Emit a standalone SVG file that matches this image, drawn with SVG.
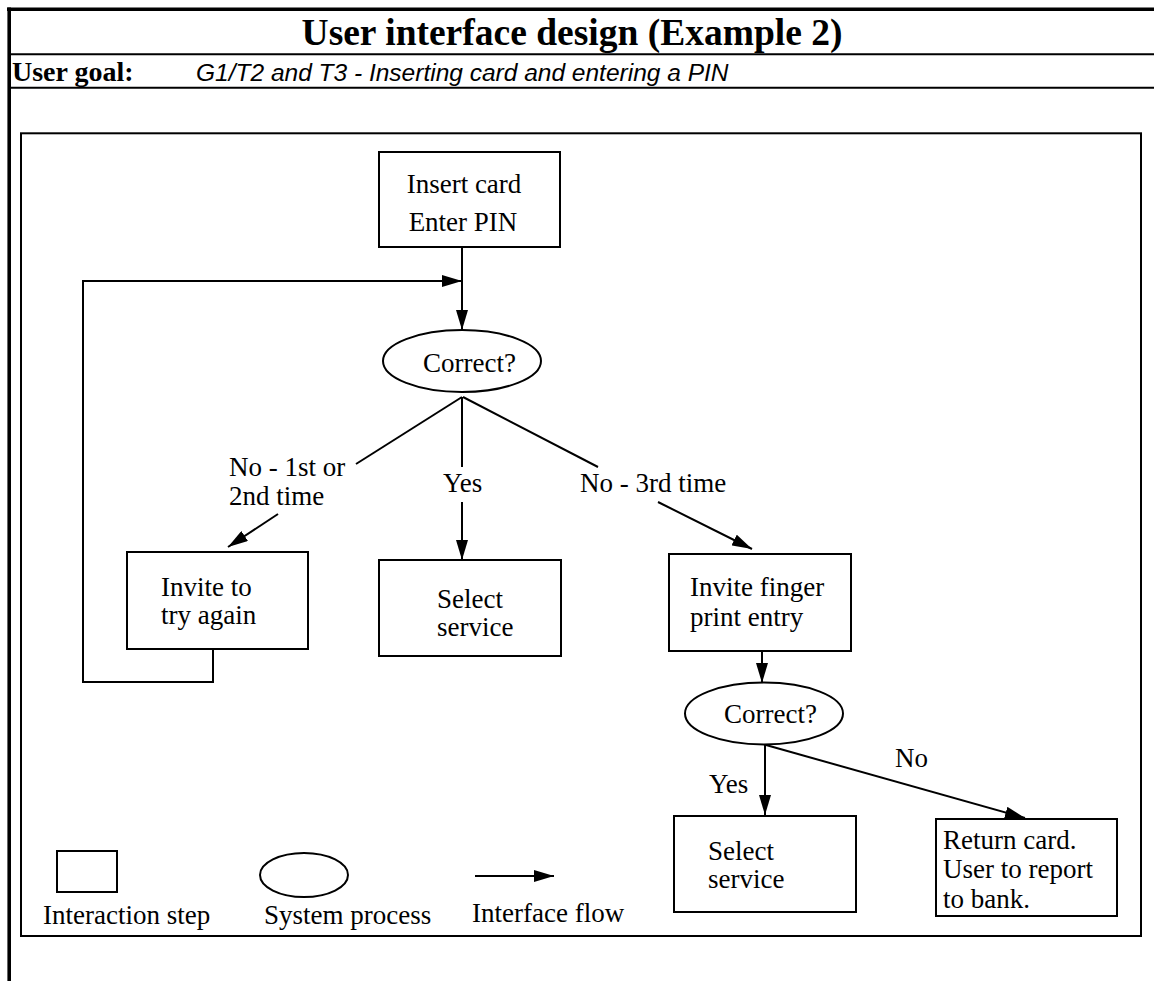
<svg xmlns="http://www.w3.org/2000/svg" width="1154" height="981" viewBox="0 0 1154 981">
  <style>
    .frame { fill: none; stroke: #000; }
    .box { fill: #fff; stroke: #000; stroke-width: 2; }
    .proc { fill: #fff; stroke: #000; stroke-width: 2; }
    .link { fill: none; stroke: #000; stroke-width: 2; }
    .flow { fill: none; stroke: #000; stroke-width: 2; marker-end: url(#head); }
    .lbl { font-family: "Liberation Serif", "Times New Roman", serif; font-size: 27px; fill: #000; }
    .title { font-family: "Liberation Serif", "Times New Roman", serif; font-size: 37.5px; font-weight: bold; fill: #000; }
    .goalkey { font-family: "Liberation Serif", "Times New Roman", serif; font-size: 28px; font-weight: bold; fill: #000; }
    .goal { font-family: "Liberation Sans", Arial, sans-serif; font-size: 24.5px; font-style: italic; fill: #000; }
  </style>
  <defs>
    <marker id="head" viewBox="0 0 20 12" refX="20" refY="6" markerWidth="20" markerHeight="12" markerUnits="userSpaceOnUse" orient="auto">
      <path d="M0,0 L20,6 L0,12 Z" fill="#000"/>
    </marker>
  </defs>

  <rect width="1154" height="981" fill="#fff"/>

  <!-- page frame and header rows -->
  <g id="page">
    <line class="frame" x1="7" y1="9.2" x2="1154" y2="9.2" stroke-width="3.6"/>
    <line class="frame" x1="9.2" y1="7.4" x2="9.2" y2="981" stroke-width="3.6"/>
    <line class="frame" x1="9" y1="54.3" x2="1154" y2="54.3" stroke-width="2"/>
    <line class="frame" x1="9" y1="87.7" x2="1154" y2="87.7" stroke-width="2"/>
    <text class="title" x="572" y="45" text-anchor="middle">User interface design (Example 2)</text>
    <text class="goalkey" x="12" y="81">User goal:</text>
    <text class="goal" x="196" y="81">G1/T2 and T3 - Inserting card and entering a PIN</text>
    <rect class="frame" x="21" y="133.3" width="1120" height="802.7" stroke-width="2"/>
  </g>

  <!-- connectors -->
  <g id="connectors">
    <line class="flow" x1="462" y1="247" x2="462" y2="330"/>
    <polyline class="flow" points="213,649 213,682 83,682 83,281 462,281"/>
    <line class="link" x1="462" y1="397" x2="356" y2="464"/>
    <line class="flow" x1="278" y1="514" x2="228" y2="547"/>
    <line class="link" x1="462" y1="397" x2="462" y2="467"/>
    <line class="flow" x1="462" y1="502" x2="462" y2="560"/>
    <line class="link" x1="463" y1="397" x2="598" y2="467"/>
    <line class="flow" x1="658" y1="502" x2="752" y2="549"/>
    <line class="flow" x1="762" y1="651" x2="762" y2="683"/>
    <line class="flow" x1="765" y1="745" x2="765" y2="815"/>
    <line class="flow" x1="766" y1="745" x2="1025" y2="818"/>
  </g>

  <!-- branch labels -->
  <g id="labels">
    <text class="lbl" x="229" y="476">No - 1st or</text>
    <text class="lbl" x="229" y="505">2nd time</text>
    <text class="lbl" x="443" y="492">Yes</text>
    <text class="lbl" x="580" y="492">No - 3rd time</text>
    <text class="lbl" x="709" y="793">Yes</text>
    <text class="lbl" x="895" y="767">No</text>
  </g>

  <g id="insert-card">
    <rect class="box" x="379" y="152" width="181" height="95"/>
    <text class="lbl" x="464" y="193" text-anchor="middle">Insert card</text>
    <text class="lbl" x="463" y="231" text-anchor="middle">Enter PIN</text>
  </g>

  <g id="pin-check">
    <ellipse class="proc" cx="462" cy="361" rx="79" ry="31"/>
    <text class="lbl" x="423" y="372">Correct?</text>
  </g>

  <g id="try-again">
    <rect class="box" x="127" y="552" width="181" height="97"/>
    <text class="lbl" x="161" y="596">Invite to</text>
    <text class="lbl" x="161" y="624">try again</text>
  </g>

  <g id="select-service-1">
    <rect class="box" x="379" y="560" width="182" height="96"/>
    <text class="lbl" x="437" y="608">Select</text>
    <text class="lbl" x="437" y="636">service</text>
  </g>

  <g id="fingerprint">
    <rect class="box" x="669" y="554" width="182" height="97"/>
    <text class="lbl" x="690" y="596">Invite finger</text>
    <text class="lbl" x="690" y="626">print entry</text>
  </g>

  <g id="print-check">
    <ellipse class="proc" cx="764" cy="713.5" rx="79" ry="31"/>
    <text class="lbl" x="724" y="723">Correct?</text>
  </g>

  <g id="select-service-2">
    <rect class="box" x="674" y="816" width="182" height="96"/>
    <text class="lbl" x="708" y="860">Select</text>
    <text class="lbl" x="708" y="888">service</text>
  </g>

  <g id="return-card">
    <rect class="box" x="936" y="819" width="181" height="97"/>
    <text class="lbl" x="943" y="849">Return card.</text>
    <text class="lbl" x="943" y="878">User to report</text>
    <text class="lbl" x="943" y="908">to bank.</text>
  </g>

  <!-- key -->
  <g id="legend">
    <rect class="box" x="57" y="851" width="60" height="41"/>
    <ellipse class="proc" cx="304" cy="875" rx="44" ry="22"/>
    <line class="flow" x1="475" y1="876" x2="554" y2="876"/>
    <text class="lbl" x="43" y="924">Interaction step</text>
    <text class="lbl" x="264" y="924">System process</text>
    <text class="lbl" x="472" y="922">Interface flow</text>
  </g>
</svg>
